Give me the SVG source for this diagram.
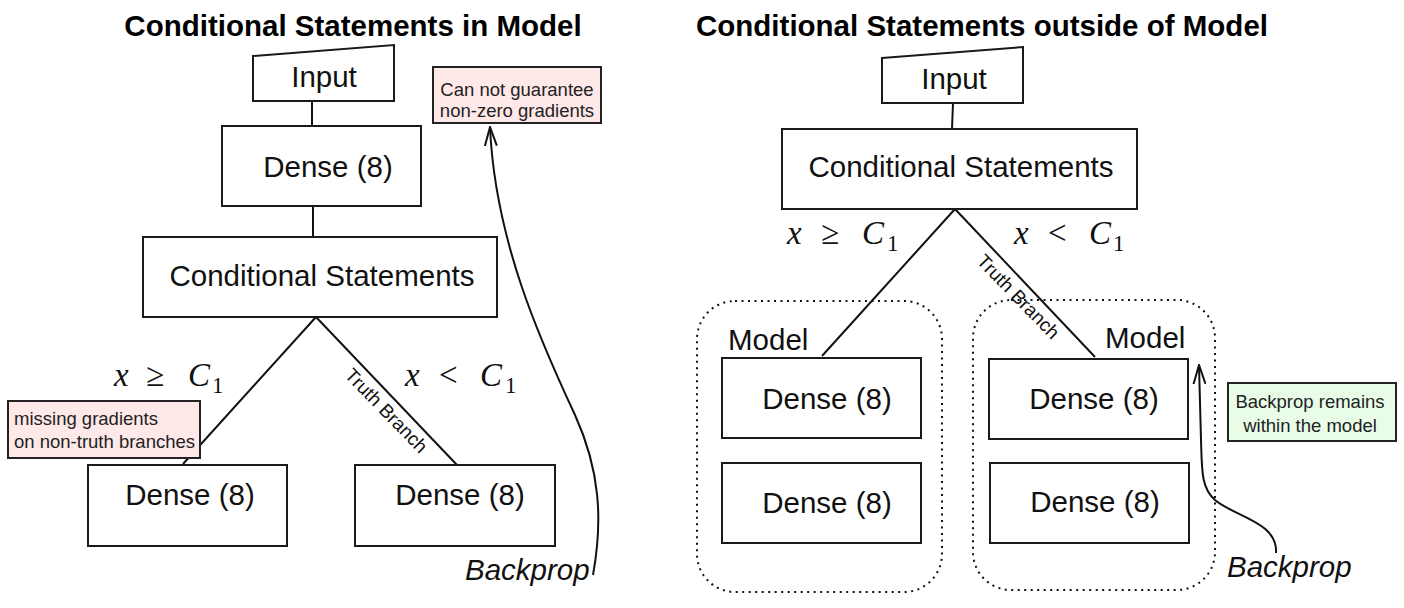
<svg xmlns="http://www.w3.org/2000/svg" width="1404" height="608" viewBox="0 0 1404 608">
<defs>
<style>
.box{fill:#fff;stroke:#1a1a1a;stroke-width:2}
.lbl{font-family:"Liberation Sans",Arial,sans-serif;font-size:29.5px;fill:#111}
.mid{text-anchor:middle}
.title{font-family:"Liberation Sans",Arial,sans-serif;font-size:29.5px;font-weight:bold;fill:#000;text-anchor:middle}
.note{font-family:"Liberation Sans",Arial,sans-serif;font-size:18.5px;fill:#222}
.tb{font-family:"Liberation Sans",Arial,sans-serif;font-size:19px;fill:#111;text-anchor:middle}
.math{font-family:"Liberation Serif","DejaVu Serif",serif;font-size:33px;fill:#111}
.it{font-style:italic}
.sub{font-size:23px}
.edge{fill:none;stroke:#111;stroke-width:2}
.grp{fill:none;stroke:#111;stroke-width:2;stroke-dasharray:2 4.5}
.pink{fill:#FFE8E8;stroke:#222;stroke-width:2}
.green{fill:#E8FCE8;stroke:#222;stroke-width:2}
.bp{font-family:"Liberation Sans",Arial,sans-serif;font-size:29.5px;font-style:italic;fill:#111}
</style>
<marker id="open" viewBox="0 0 20 14" refX="19" refY="7" markerWidth="20" markerHeight="14" markerUnits="userSpaceOnUse" orient="auto">
<path d="M0,1 L19,7 L0,13" fill="none" stroke="#111" stroke-width="2"/>
</marker>
</defs>

<text class="title" x="353" y="36">Conditional Statements in Model</text>
<text class="title" x="982" y="36">Conditional Statements outside of Model</text>

<g id="connectors">
<line class="edge" x1="312" y1="101" x2="312" y2="126"/>
<line class="edge" x1="313" y1="206" x2="313" y2="237"/>
<line class="edge" x1="316" y1="317" x2="183" y2="464"/>
<line class="edge" x1="316" y1="317" x2="457" y2="465"/>
<line class="edge" x1="953" y1="103" x2="952" y2="129"/>
<line class="edge" x1="955" y1="209" x2="822" y2="356"/>
<line class="edge" x1="955" y1="209" x2="1095" y2="357"/>
<path class="edge" d="M593,575 C603,520 600,470 575,415 C540,340 495,240 490,127" marker-end="url(#open)"/>
<path class="edge" d="M1276,553 C1278,522 1235,517 1215,500 C1201,488 1202,470 1201,440 L1199,365" marker-end="url(#open)"/>
</g>

<g id="labels">
<text class="tb" transform="translate(386,411) rotate(45.8)" y="6">Truth Branch</text>
<text class="tb" transform="translate(1018,297) rotate(45.8)" y="6">Truth Branch</text>
<text class="math" x="114" y="386"><tspan class="it">x</tspan><tspan x="146">≥</tspan><tspan x="188" class="it">C</tspan><tspan x="212" dy="7" class="sub">1</tspan></text>
<text class="math" x="405" y="386"><tspan class="it">x</tspan><tspan x="439">&lt;</tspan><tspan x="480" class="it">C</tspan><tspan x="505" dy="7" class="sub">1</tspan></text>
<text class="math" x="787" y="244"><tspan class="it">x</tspan><tspan x="821">≥</tspan><tspan x="862" class="it">C</tspan><tspan x="887" dy="7" class="sub">1</tspan></text>
<text class="math" x="1014" y="244"><tspan class="it">x</tspan><tspan x="1048">&lt;</tspan><tspan x="1089" class="it">C</tspan><tspan x="1113" dy="7" class="sub">1</tspan></text>
<text class="bp" x="465" y="580">Backprop</text>
<text class="bp" x="1227" y="577">Backprop</text>
</g>

<g id="group-left">
<rect class="grp" x="697" y="301" width="245" height="291" rx="38"/>
<text class="lbl" x="728" y="350">Model</text>
</g>
<g id="group-right">
<rect class="grp" x="973" y="300" width="242" height="290" rx="38"/>
<text class="lbl" x="1105" y="348">Model</text>
</g>

<g id="input-left">
<polygon class="box" points="253,56 394,45 394,101 253,101"/>
<text class="lbl mid" x="324" y="87">Input</text>
</g>
<g id="dense-left-1">
<rect class="box" x="222" y="126" width="199" height="80"/>
<text class="lbl mid" x="328" y="177">Dense (8)</text>
</g>
<g id="cond-left">
<rect class="box" x="143" y="237" width="354" height="80"/>
<text class="lbl mid" x="322" y="286">Conditional Statements</text>
</g>
<g id="dense-left-a">
<rect class="box" x="88" y="465" width="199" height="81"/>
<text class="lbl mid" x="190" y="505">Dense (8)</text>
</g>
<g id="dense-left-b">
<rect class="box" x="355" y="465" width="200" height="81"/>
<text class="lbl mid" x="460" y="505">Dense (8)</text>
</g>
<g id="note-missing">
<rect class="pink" x="8" y="401" width="192" height="57"/>
<text class="note" x="14" y="425">missing gradients</text>
<text class="note" x="14" y="448">on non-truth branches</text>
</g>
<g id="note-guarantee">
<rect class="pink" x="433" y="67" width="168" height="56"/>
<text class="note mid" x="517" y="96">Can not guarantee</text>
<text class="note mid" x="517" y="117">non-zero gradients</text>
</g>

<g id="input-right">
<polygon class="box" points="882,58 1023,47 1023,103 882,103"/>
<text class="lbl mid" x="954" y="89">Input</text>
</g>
<g id="cond-right">
<rect class="box" x="782" y="129" width="355" height="80"/>
<text class="lbl mid" x="961" y="177">Conditional Statements</text>
</g>
<g id="dense-r1">
<rect class="box" x="722" y="358" width="199" height="80"/>
<text class="lbl mid" x="827" y="409">Dense (8)</text>
</g>
<g id="dense-r2">
<rect class="box" x="722" y="463" width="199" height="80"/>
<text class="lbl mid" x="827" y="513">Dense (8)</text>
</g>
<g id="dense-r3">
<rect class="box" x="989" y="359" width="199" height="80"/>
<text class="lbl mid" x="1094" y="409">Dense (8)</text>
</g>
<g id="dense-r4">
<rect class="box" x="990" y="463" width="199" height="80"/>
<text class="lbl mid" x="1095" y="512">Dense (8)</text>
</g>
<g id="note-remains">
<rect class="green" x="1228" y="383" width="168" height="58"/>
<text class="note mid" x="1310" y="408">Backprop remains</text>
<text class="note mid" x="1310" y="432"> within the model</text>
</g>
</svg>
